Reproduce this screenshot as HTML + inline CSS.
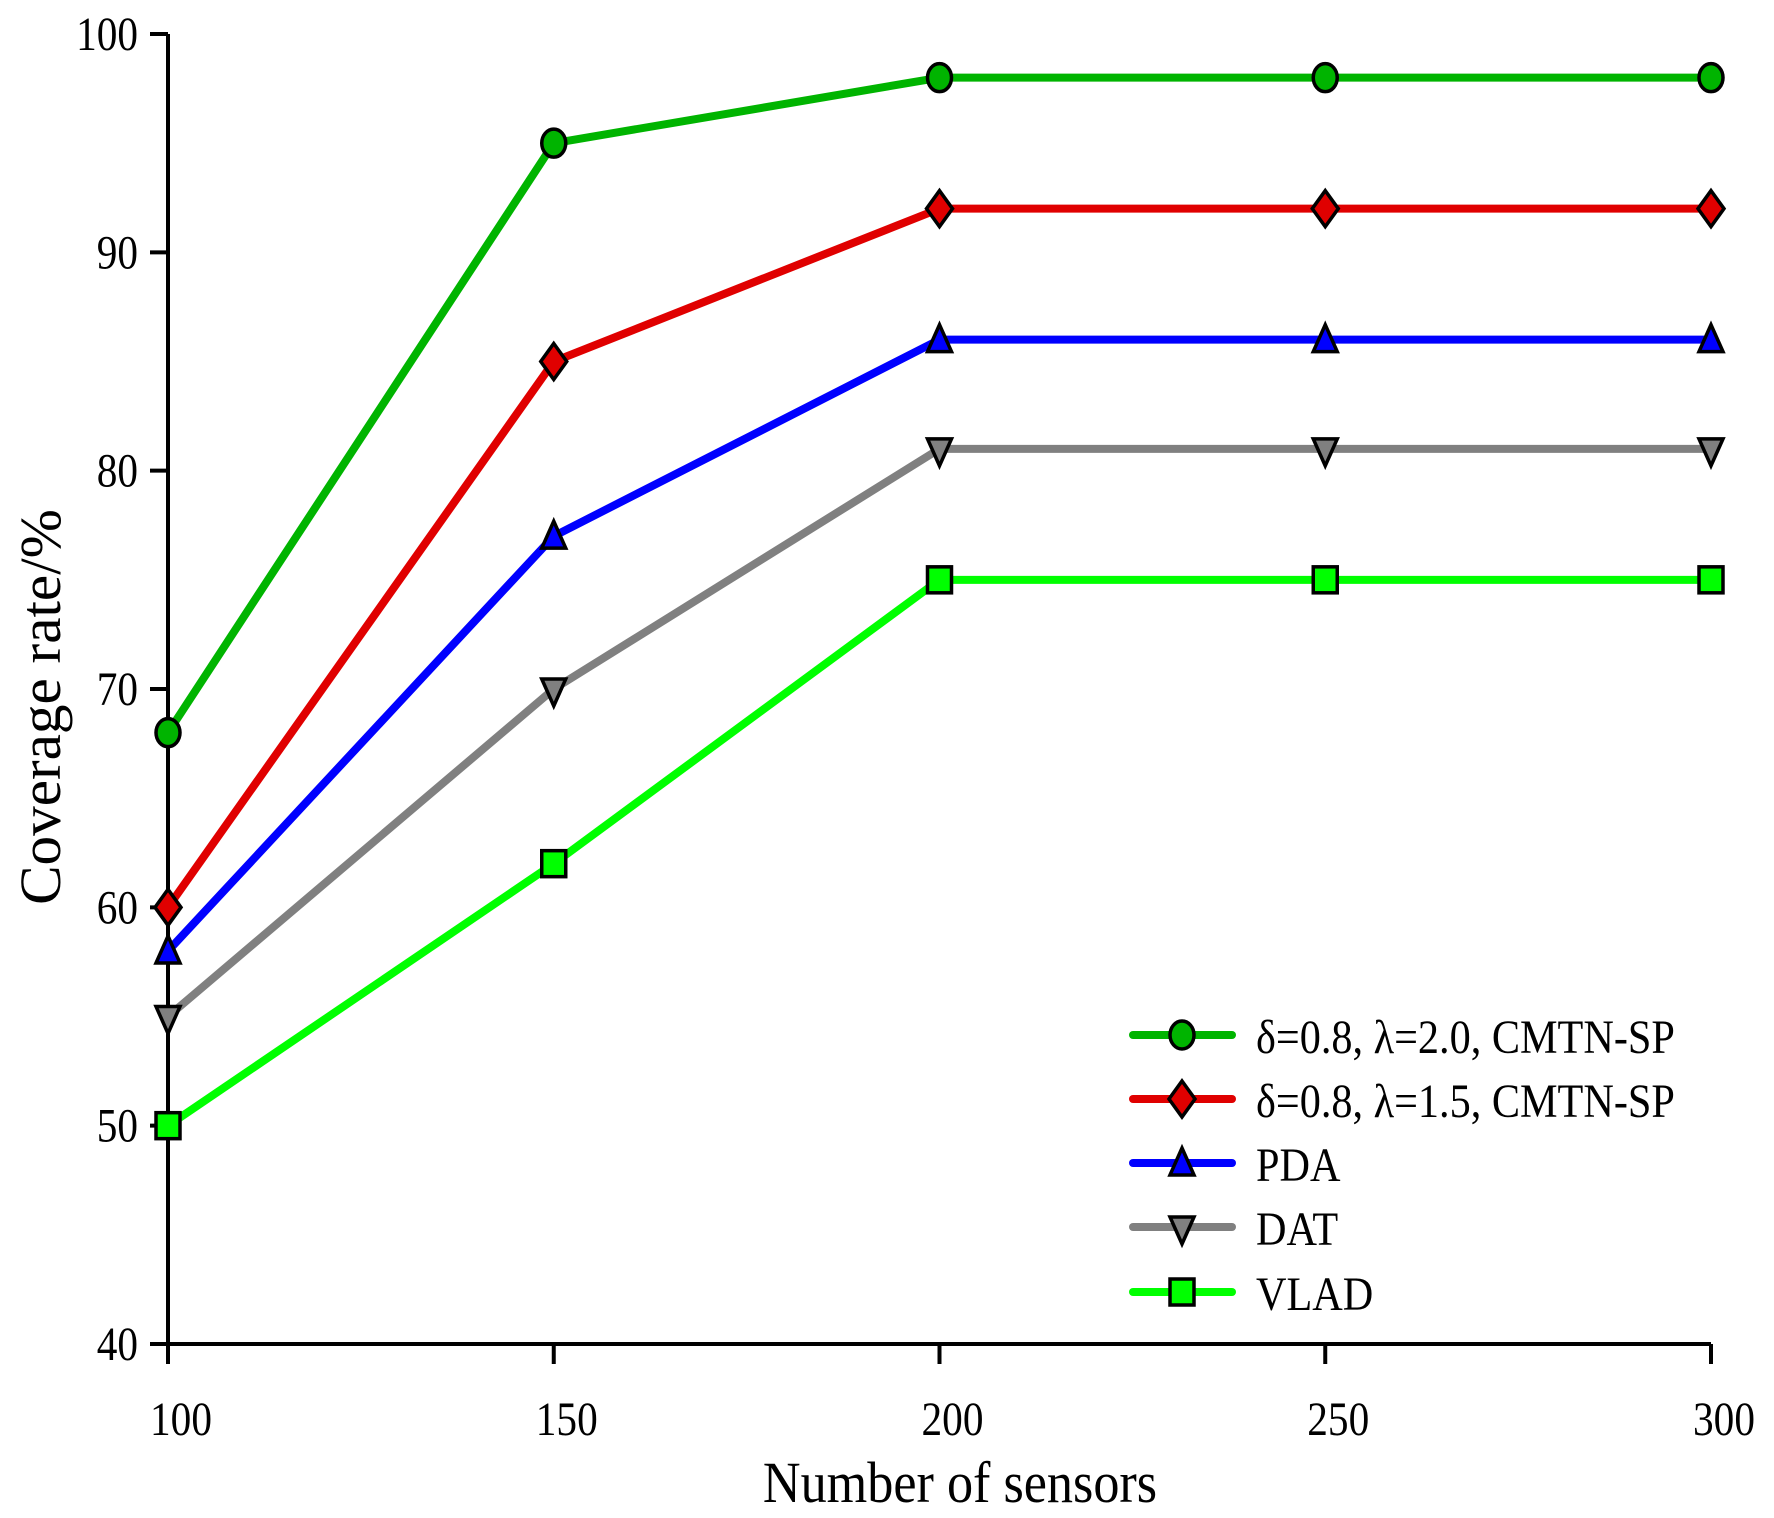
<!DOCTYPE html>
<html><head><meta charset="utf-8"><style>
html,body{margin:0;padding:0;background:#fff}
svg{display:block}
text{font-family:"Liberation Serif",serif;fill:#000}
</style></head><body>
<svg id="chart" width="1774" height="1518" viewBox="0 0 1774 1518" xmlns="http://www.w3.org/2000/svg">
<g id="axes"></g>
<g id="series"></g>
<g id="legend"></g>
</svg>
<script>
const categories = [100, 150, 200, 250, 300];
const seriesNames = ["δ=0.8, λ=2.0, CMTN-SP", "δ=0.8, λ=1.5, CMTN-SP", "PDA", "DAT", "VLAD"];
const seriesG20 = [68, 95, 98, 98, 98];
const seriesG15 = [60, 85, 92, 92, 92];
const seriesPDA = [58, 77, 86, 86, 86];
const seriesDAT = [55, 70, 81, 81, 81];
const seriesVLAD = [50, 62, 75, 75, 75];
const yTicks = [40, 50, 60, 70, 80, 90, 100];
const xTicks = [100, 150, 200, 250, 300];

const NS = "http://www.w3.org/2000/svg";
const X0 = 168, X1 = 1711, Y0 = 1344, Y1 = 34;
function xs(v){ return X0 + (v - 100) / 200 * (X1 - X0); }
function ys(v){ return Y0 - (v - 40) / 60 * (Y0 - Y1); }
function mk(tag, attrs, parent){
  const e = document.createElementNS(NS, tag);
  for (const k in attrs) e.setAttribute(k, attrs[k]);
  parent.appendChild(e); return e;
}
function txt(parent, x, y, s, size, anchor, sx){
  const t = mk("text", {transform:`translate(${x},${y}) scale(${sx||0.86},1)`, "font-size":size, "text-anchor":anchor||"start"}, parent);
  t.textContent = s; return t;
}
const axes = document.getElementById("axes");
const yAxis = mk("path", {d:`M${X0},${Y0} L${X0},${Y1}`, stroke:"#000", "stroke-width":4, fill:"none"}, axes);


const xAxis = mk("path", {d:`M${X0},${Y0} L${X1},${Y0}`, stroke:"#000", "stroke-width":4, fill:"none"}, axes);


yTicks.forEach(v => {
  const y = ys(v);
  const tk = mk("line", {x1:X0-18, y1:y, x2:X0, y2:y, stroke:"#000", "stroke-width":4}, axes);
  
  
  const l = txt(axes, 138, y + 16, String(v), 48, "end");
  
  
});
xTicks.forEach(v => {
  const x = xs(v);
  const tk = mk("line", {x1:x, y1:Y0, x2:x, y2:Y0+20, stroke:"#000", "stroke-width":4}, axes);
  
  
  const l = txt(axes, x + 13, 1435, String(v), 48, "middle");
  
  
});
const xt = txt(axes, 960, 1502, "Number of sensors", 58, "middle", 0.9);


const ytl = mk("text", {transform:"translate(60,707) rotate(-90) scale(1.02,1)", "font-size":58, "text-anchor":"middle"}, axes);
ytl.textContent = "Coverage rate/%";



const colors = ["#00b400", "#e00000", "#0000ff", "#808080", "#00ff00"];
const markers = ["circle", "diamond", "up", "down", "square"];
const allSeries = [seriesG20, seriesG15, seriesPDA, seriesDAT, seriesVLAD];
function marker(parent, type, x, y, fill){
  let e;
  const st = {fill:fill, stroke:"#000", "stroke-width":3.5};
  if (type === "circle") e = mk("ellipse", Object.assign({cx:x, cy:y, rx:12, ry:14}, st), parent);
  else if (type === "diamond") e = mk("path", Object.assign({d:`M${x},${y-18} L${x+13},${y} L${x},${y+18} L${x-13},${y}Z`}, st), parent);
  else if (type === "up") e = mk("path", Object.assign({d:`M${x},${y-15} L${x+12},${y+12} L${x-12},${y+12}Z`}, st), parent);
  else if (type === "down") e = mk("path", Object.assign({d:`M${x},${y+17} L${x+12},${y-10} L${x-12},${y-10}Z`}, st), parent);
  else e = mk("rect", Object.assign({x:x-12, y:y-13, width:24, height:26}, st), parent);
  return e;
}
const sg = document.getElementById("series");
allSeries.forEach((vals, i) => {
  const g = mk("g", {}, sg);
  
  
  const d = vals.map((v, j) => (j ? "L" : "M") + xs(categories[j]) + "," + ys(v)).join(" ");
  const p = mk("path", {d:d, stroke:colors[i], "stroke-width":8, fill:"none", "stroke-linejoin":"round", "stroke-linecap":"round"}, g);
  
  
  vals.forEach((v, j) => {
    const m = marker(g, markers[i], xs(categories[j]), ys(v), colors[i]);
    
    
  });
});
const lg = document.getElementById("legend");
const legY = [1035, 1099, 1163, 1227, 1292];
seriesNames.forEach((n, i) => {
  const g = mk("g", {}, lg);
  
  
  const y = legY[i];
  mk("line", {x1:1133, y1:y, x2:1232, y2:y, stroke:colors[i], "stroke-width":8, "stroke-linecap":"round"}, g);
  marker(g, markers[i], 1182, y, colors[i]);
  const t = txt(g, 1256, y + 18, n, 48, "start", 0.88);
  
  
});
</script>
</body></html>
